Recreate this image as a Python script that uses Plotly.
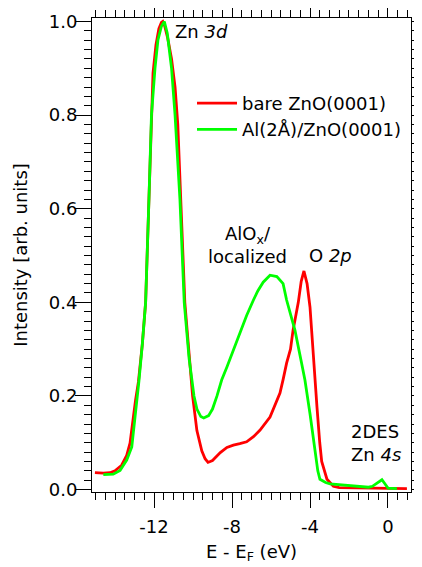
import plotly.graph_objects as go

# bare ZnO(0001)
bare_x = [-15.03, -14.6, -14.26, -14.0, -13.66, -13.4, -13.23, -13.1, -12.95, -12.8,
          -12.6, -12.43, -12.26, -12.13, -12.05, -11.9, -11.75, -11.62, -11.55, -11.45,
          -11.3, -11.1, -10.92, -10.78, -10.62, -10.42, -10.2, -10.02, -9.8, -9.55,
          -9.38, -9.23, -9.0, -8.8, -8.6, -8.26, -7.93, -7.6, -7.25, -6.9,
          -6.56, -6.05, -5.54, -5.38, -5.2, -5.0, -4.87, -4.6, -4.45, -4.31,
          -4.15, -4.0, -3.84, -3.74, -3.64, -3.5, -3.4, -3.13, -2.8, -2.5,
          -1.5, -0.5, 0.3, 0.97]
bare_y = [0.036, 0.035, 0.036, 0.040, 0.052, 0.073, 0.099, 0.147, 0.19, 0.23,
          0.31, 0.40, 0.61, 0.80, 0.89, 0.95, 0.985, 0.998, 1.0, 0.99,
          0.965, 0.92, 0.86, 0.78, 0.62, 0.40, 0.29, 0.20, 0.126, 0.083,
          0.066, 0.058, 0.062, 0.071, 0.079, 0.09, 0.095, 0.098, 0.102, 0.113,
          0.127, 0.155, 0.206, 0.235, 0.27, 0.30, 0.34, 0.40, 0.445, 0.467,
          0.44, 0.39, 0.284, 0.234, 0.175, 0.10, 0.06, 0.022, 0.007, 0.004,
          0.003, 0.002, 0.002, 0.002]

# Al(2Å)/ZnO(0001)
al_x = [-14.6, -14.09, -13.74, -13.4, -13.14, -12.95, -12.77, -12.6, -12.43, -12.26,
        -12.13, -11.95, -11.8, -11.62, -11.47, -11.32, -11.1, -10.92, -10.67, -10.45,
        -10.2, -9.95, -9.8, -9.6, -9.45, -9.2, -9.0, -8.77, -8.53, -8.26,
        -7.95, -7.6, -7.25, -6.9, -6.67, -6.4, -6.05, -5.7, -5.38, -5.2,
        -4.77, -4.43, -4.26, -4.0, -3.74, -3.6, -3.49, -3.2, -2.97, -2.0,
        -1.0, -0.8, -0.55, -0.31, -0.15, 0.0, 0.46]
al_y = [0.032, 0.033, 0.041, 0.063, 0.091, 0.16, 0.233, 0.31, 0.40, 0.62,
        0.80, 0.90, 0.96, 0.99, 1.0, 0.975, 0.90, 0.80, 0.62, 0.40,
        0.28, 0.20, 0.172, 0.156, 0.153, 0.158, 0.172, 0.20, 0.234, 0.262,
        0.297, 0.333, 0.372, 0.405, 0.425, 0.443, 0.458, 0.455, 0.44, 0.405,
        0.34, 0.27, 0.234, 0.162, 0.077, 0.04, 0.022, 0.015, 0.012, 0.008,
        0.005, 0.007, 0.014, 0.021, 0.012, 0.003, 0.002]

x_ticks = [-12, -8, -4, 0]
y_ticks = [0.0, 0.2, 0.4, 0.6, 0.8, 1.0]
y_mid_ticks = [0.1, 0.3, 0.5, 0.7, 0.9]

FONT = "DejaVu Sans"
FS = 18
XR = [-15.18, 1.18]
YR = [-0.0052, 1.0075]

fig = go.Figure()
fig.add_trace(go.Scatter(x=bare_x, y=bare_y, mode="lines", name="bare ZnO(0001)",
                         line=dict(color="#ff0000", width=2.8)))
fig.add_trace(go.Scatter(x=al_x, y=al_y, mode="lines", name="Al(2Å)/ZnO(0001)",
                         line=dict(color="#00ff00", width=2.8)))

# page body has an 8px margin, so the figure is placed at (8, 8)
fig.update_layout(
    width=414, height=559,
    margin=dict(l=84, r=11, t=10, b=75, autoexpand=False),
    paper_bgcolor="white", plot_bgcolor="white",
    font=dict(family=FONT, size=FS, color="black"),
    showlegend=True,
    legend=dict(x=0.3135, y=0.859, xanchor="left", yanchor="top",
                bgcolor="rgba(0,0,0,0)", font=dict(family=FONT, size=FS),
                tracegroupgap=0, itemwidth=40),
    xaxis=dict(range=XR, tickvals=x_ticks, ticktext=[str(v) for v in x_ticks],
               automargin=False,
               ticks="outside", ticklen=15, tickwidth=1, tickcolor="black",
               minor=dict(dtick=0.5, tick0=0, ticks="outside", ticklen=7,
                          tickwidth=1, tickcolor="black", showgrid=False),
               showline=True, linecolor="black", linewidth=1, mirror="ticks",
               showgrid=False, zeroline=False, ticklabelstandoff=3,
               title=dict(text="E - E<sub>F</sub> (eV)", standoff=9,
                          font=dict(family=FONT, size=FS))),
    yaxis=dict(range=YR, tickvals=y_ticks, ticktext=["0.0", "0.2", "0.4", "0.6", "0.8", "1.0"],
               automargin=False,
               ticks="outside", ticklen=16, tickwidth=1, tickcolor="black",
               minor=dict(dtick=0.02, tick0=0, ticks="outside", ticklen=7,
                          tickwidth=1, tickcolor="black", showgrid=False),
               showline=True, linecolor="black", linewidth=1, mirror="ticks",
               showgrid=False, zeroline=False, ticklabelstandoff=-6,
               title=dict(text="Intensity [arb. units]", standoff=16,
                          font=dict(family=FONT, size=FS))),
    yaxis2=dict(range=YR, overlaying="y", anchor="x", side="left", automargin=False,
                tickvals=y_mid_ticks, ticks="outside", ticklen=11, tickwidth=1,
                tickcolor="black", showticklabels=False, showgrid=False,
                zeroline=False, showline=False, mirror="ticks"),
)

annos = [
    dict(x=-11.02, y=0.978, text="Zn <i>3d</i>", xanchor="left", yanchor="middle"),
    dict(x=-7.23, y=0.522, text="AlO<sub>x</sub>/<br>localized", xanchor="center",
         yanchor="middle", align="center"),
    dict(x=-2.97, y=0.501, text="O <i>2p</i>", xanchor="center", yanchor="middle"),
    dict(x=-2.0, y=0.099, text="2DES<br>Zn <i>4s</i>", xanchor="left",
         yanchor="middle", align="left"),
]
for a in annos:
    fig.add_annotation(xref="x", yref="y", showarrow=False,
                       font=dict(family=FONT, size=FS, color="black"), **a)

fig.write_html("out.html")
